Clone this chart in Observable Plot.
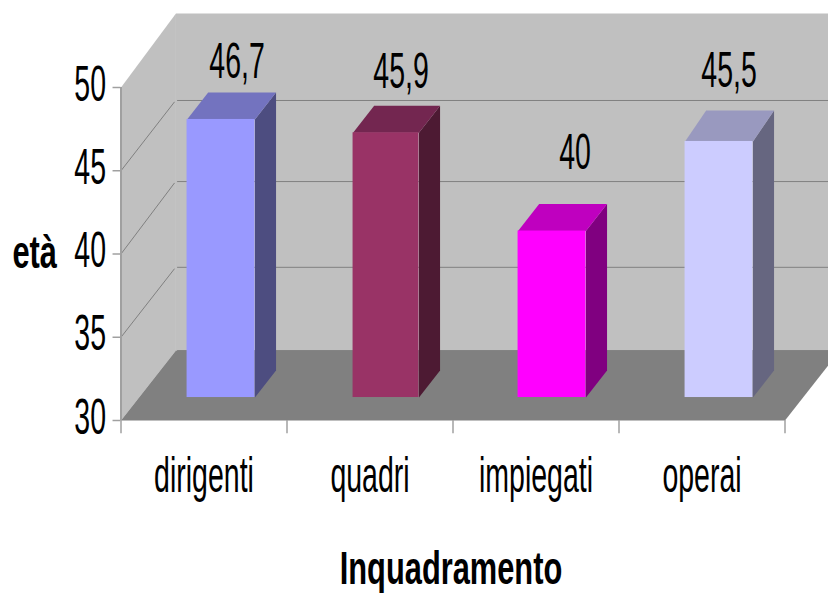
<!DOCTYPE html>
<html>
<head>
<meta charset="utf-8">
<style>html,body{margin:0;padding:0;background:#fff}svg{display:block}</style>
<script src="https://cdn.jsdelivr.net/npm/d3@7"></script>
<script src="https://cdn.jsdelivr.net/npm/@observablehq/plot@0.6"></script>
</head>
<body>
<div id="chart"></div>
<script>
const categories = ["dirigenti", "quadri", "impiegati", "operai"];
const ages = [46.7, 45.9, 40, 45.5];
const ageLabels = ["46,7", "45,9", "40", "45,5"];
const yTicks = [30, 35, 40, 45, 50];
const xTicks = [0, 1, 2, 3, 4];
const backWallValues = [34.2, 39.2, 44.35, 49.22];
const frontColors = ["#9999ff", "#993366", "#ff00ff", "#ccccff"];
const topColors = ["#7373bf", "#732650", "#bf00bf", "#9999bf"];
const sideColors = ["#4d4d80", "#4d1a33", "#800080", "#666680"];
const labelDx = [16, 14, 22, 10];
const labelDy = [-64, -68, -85, -75];

// oblique depth of the chart box, in scale units
const boxDepthX = 0.331, wallBase = 34.2, wallTop = 54.44;
// bar placement inside a category, and its own depth
const barLeft = [0.398, 1.398, 2.392, 3.398];
const barRight = [0.807, 1.795, 2.801, 3.807];
const barLift = 1.38, barDepthX = 0.127, barDepthY = 1.62;
const topLift = [1.38, 1.38, 1.38, 1.26];
const topDepth = [1.62, 1.62, 1.62, 1.86];

const poly = (face, color, pts) => pts.map(([x, y]) => ({face, color, x, y}));
const box = [
  ...poly("left", "#c0c0c0", [[0, 30], [0, 50], [boxDepthX, wallTop], [boxDepthX, wallBase]]),
  ...poly("back", "#c0c0c0", [[boxDepthX, wallBase], [boxDepthX, wallTop], [4 + boxDepthX, wallTop], [4 + boxDepthX, wallBase]]),
  ...poly("floor", "#808080", [[0, 30], [4, 30], [4 + boxDepthX, wallBase], [boxDepthX, wallBase]])
];
const bars = ages.map((v, i) => ({
  i, v, label: ageLabels[i], category: categories[i], color: frontColors[i],
  x1: barLeft[i], x2: barRight[i], y1: 30 + barLift, y2: v + topLift[i], depth: topDepth[i]
}));
const faces = bars.flatMap(b => [
  ...poly("side" + b.i, sideColors[b.i], [[b.x2, b.y1], [b.x2, b.y2], [b.x2 + barDepthX, b.y2 + b.depth], [b.x2 + barDepthX, b.y1 + barDepthY]]),
  ...poly("top" + b.i, topColors[b.i], [[b.x1, b.y2], [b.x2, b.y2], [b.x2 + barDepthX, b.y2 + b.depth], [b.x1 + barDepthX, b.y2 + b.depth]])
]);
const leftGrid = yTicks.slice(1, 4).flatMap((v, k) => [
  {z: k, x: 0, y: v},
  {z: k, x: boxDepthX * 0.97, y: backWallValues[k + 1] - 0.1}
]);

const plot = Plot.plot({
  width: 828, height: 593,
  marginLeft: 120.5, marginRight: 43.5, marginTop: 87, marginBottom: 173,
  style: {fontFamily: "'Liberation Sans', Arial, sans-serif", background: "#fff", color: "#000"},
  x: {domain: [0, 4], axis: null},
  y: {domain: [30, 50], axis: null},
  color: {type: "identity"},
  marks: [
    Plot.line(box, {x: "x", y: "y", z: "face", fill: "color", stroke: "none"}),
    Plot.ruleY(backWallValues, {x1: boxDepthX + 0.01, x2: 4 + boxDepthX, y: d => d, stroke: "#808080", strokeWidth: 1}),
    Plot.line(leftGrid, {x: "x", y: "y", z: "z", stroke: "#808080", strokeWidth: 1}),
    Plot.ruleX([0], {y1: 30, y2: 50, stroke: "#a0a0a0", strokeWidth: 2}),
    Plot.ruleY(yTicks, {x1: -0.048, x2: 0, stroke: "#a0a0a0", strokeWidth: 1.5}),
    Plot.ruleX(xTicks, {y1: 30, y2: 29.2, stroke: "#a0a0a0", strokeWidth: 1.5}),
    Plot.line(faces, {x: "x", y: "y", z: "face", fill: "color", stroke: "none"}),
    Plot.rect(bars, {x1: "x1", x2: "x2", y1: "y1", y2: "y2", fill: "color"}),
    Plot.axisY(yTicks, {anchor: "left", tickSize: 0, tickPadding: 15, dy: -3, fontSize: 50, label: null, tickFormat: "d", stroke: "none", fill: "#000"}),
    Plot.text(bars, {x: d => d.i + 0.5, y: 30, dy: 71, text: "category", fontSize: 50, lineAnchor: "bottom", fill: "#000"}),
    ...bars.map((b, k) => Plot.text([b], {x: d => d.i + 0.603, y: "v", text: "label", fontSize: 50, lineAnchor: "bottom", fill: "#000", dx: labelDx[k], dy: labelDy[k]})),
    Plot.text(["età"], {x: -0.52, y: 40, dy: 14, text: d => d, fontSize: 46, fontWeight: "bold", lineAnchor: "bottom", fill: "#000"}),
    Plot.text(["Inquadramento"], {x: 2, y: 30, dy: 163, dx: -2, text: d => d, fontSize: 46, fontWeight: "bold", lineAnchor: "bottom", fill: "#000"})
  ]
});
document.getElementById("chart").appendChild(plot);
// condensed lettering, as in the reference
plot.querySelectorAll("text").forEach(t => {
  const bold = t.closest('[font-weight="bold"]');
  const scale = bold ? 0.67 : 0.57;
  t.setAttribute("transform", (t.getAttribute("transform") || "") + ` scale(${scale},1)`);
});
</script>
</body>
</html>
